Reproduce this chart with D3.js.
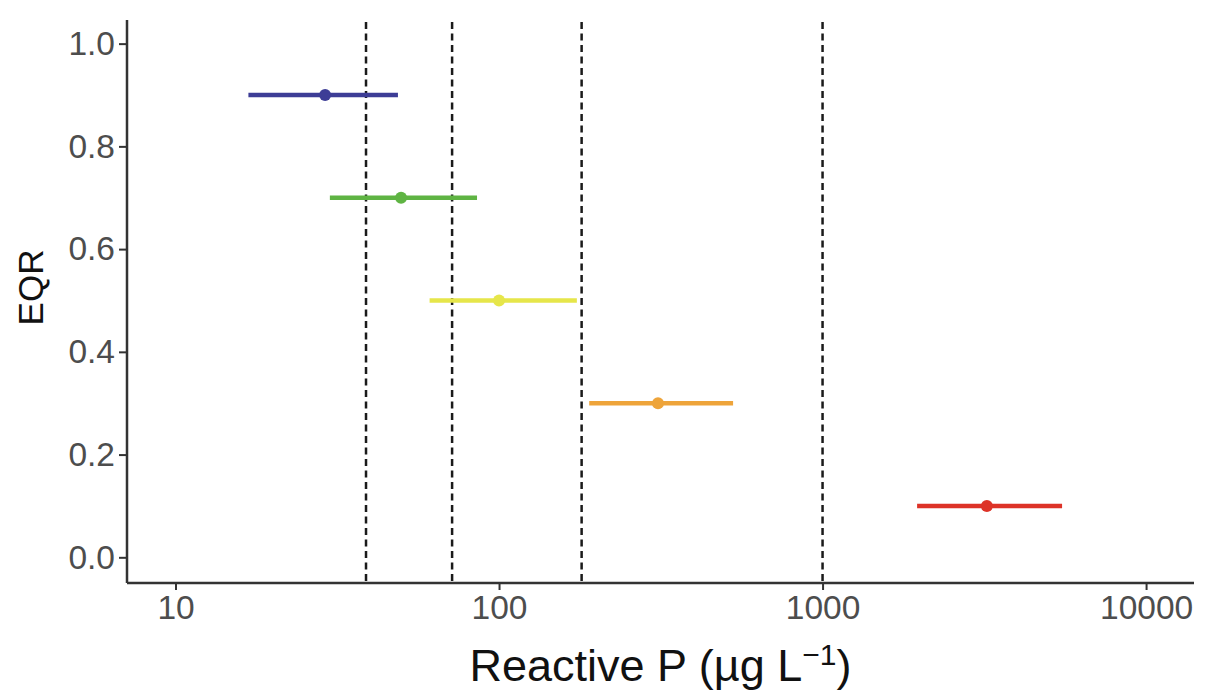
<!DOCTYPE html>
<html>
<head>
<meta charset="utf-8">
<script src="https://cdn.jsdelivr.net/npm/d3@7"></script>
<style>
  html, body { margin: 0; padding: 0; background: #fff; }
  svg { display: block; font-family: "Liberation Sans", Arial, sans-serif; }
</style>
</head>
<body>
<svg id="visualization" width="1205" height="692"></svg>
<script>
// class boundaries
const eqrLevels = [0.9, 0.7, 0.5, 0.3, 0.1];
const pMid = [29, 49.8, 100, 310, 3220];
const pLow = [16.8, 30, 61, 190, 1960];
const pHigh = [48.7, 85.5, 174, 529, 5500];
const classColours = ["#3d3d96", "#5fb443", "#e6e64a", "#eea43a", "#dd3328"];
const thresholds = [38.8, 71.6, 180, 1000];
const xTicks = [10, 100, 1000, 10000];
const yTicks = [0, 0.2, 0.4, 0.6, 0.8, 1.0];

const rows = eqrLevels.map((e, i) => ({
    eqr: e, mid: pMid[i], low: pLow[i], high: pHigh[i], colour: classColours[i]
}));

const svg = d3.select("#visualization");

const plotLeft = 127, plotRight = 1194, plotTop = 20, plotBottom = 583;

const xScale = d3.scaleLog()
    .domain([7.08, 14065])
    .range([plotLeft, plotRight]);
const yScale = d3.scaleLinear()
    .domain([-0.05, 1.046])
    .range([plotBottom, plotTop]);

// threshold lines
svg.selectAll(".threshold")
    .data(thresholds)
    .join("line")
    .attr("class", "threshold")
    .attr("x1", d => xScale(d))
    .attr("x2", d => xScale(d))
    .attr("y1", plotTop + 2)
    .attr("y2", plotBottom)
    .attr("stroke", "#1a1a1a")
    .attr("stroke-width", 2.5)
    .attr("stroke-dasharray", "7,4.5");

// ranges
svg.selectAll(".range")
    .data(rows)
    .join("line")
    .attr("class", "range")
    .attr("x1", d => xScale(d.low))
    .attr("x2", d => xScale(d.high))
    .attr("y1", d => yScale(d.eqr))
    .attr("y2", d => yScale(d.eqr))
    .attr("stroke", d => d.colour)
    .attr("stroke-width", 4.5);

svg.selectAll(".mid")
    .data(rows)
    .join("circle")
    .attr("class", "mid")
    .attr("cx", d => xScale(d.mid))
    .attr("cy", d => yScale(d.eqr))
    .attr("r", 6)
    .attr("fill", d => d.colour);

// axes
const xAxis = svg.append("g")
    .attr("transform", `translate(0,${plotBottom})`)
    .call(d3.axisBottom(xScale).tickValues(xTicks).tickFormat(d3.format("d")).tickSizeOuter(0).tickSize(7).tickPadding(5));
const yAxis = svg.append("g")
    .attr("transform", `translate(${plotLeft},0)`)
    .call(d3.axisLeft(yScale).tickValues(yTicks).tickFormat(d3.format(".1f")).tickSizeOuter(0).tickSize(8).tickPadding(4));

[xAxis, yAxis].forEach(g => {
    g.select(".domain").attr("stroke", "#333").attr("stroke-width", 2.5);
    g.selectAll(".tick line").attr("stroke", "#333").attr("stroke-width", 2);
    g.selectAll(".tick text")
        .attr("fill", "#4d4d4d")
        .attr("font-size", 33.5)
        .attr("font-family", "'Liberation Sans', Arial, sans-serif");
});
// axis lines meet at the corner
xAxis.select(".domain").attr("d", `M${plotLeft},0H${plotRight}`);
yAxis.select(".domain").attr("d", `M0,${plotTop}V${plotBottom}`);

// axis titles
const xTitle = svg.append("text")
    .attr("x", (plotLeft + plotRight) / 2)
    .attr("y", 681)
    .attr("text-anchor", "middle")
    .attr("font-size", 45)
    .attr("fill", "#111");
xTitle.append("tspan").text("Reactive P (µg L");
xTitle.append("tspan").attr("dy", -16).attr("font-size", 30).text("−1");
xTitle.append("tspan").attr("dy", 16).text(")");

svg.append("text")
    .attr("transform", `translate(43,${(plotTop + plotBottom) / 2 - 14})rotate(-90)`)
    .attr("text-anchor", "middle")
    .attr("font-size", 35)
    .attr("fill", "#111")
    .text("EQR");
</script>
</body>
</html>
